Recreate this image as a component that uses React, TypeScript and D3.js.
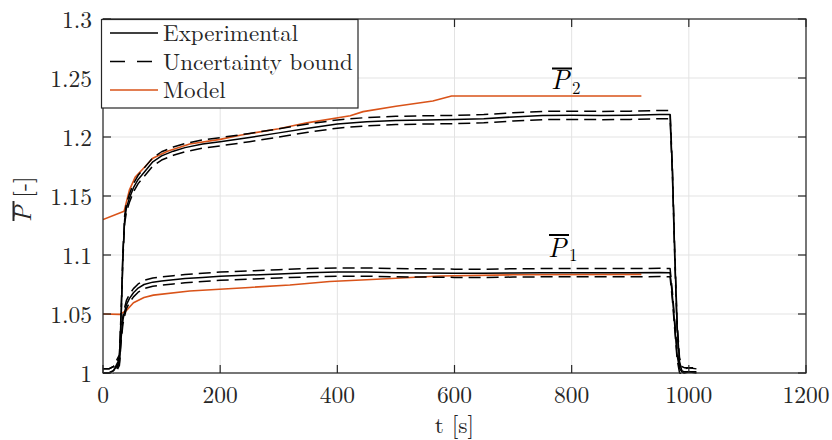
import React from "react";
import * as d3 from "d3";

// ---------- data ----------
const tExp = [0, 10, 18, 24, 28, 31, 34, 37, 40, 45, 52, 60, 70, 85, 100, 120, 140, 170, 200, 250, 300, 350, 400, 450, 500, 550, 600, 650, 700, 750, 800, 850, 900, 950, 968, 972, 976, 980, 984, 988, 992, 1000, 1013];
const p2Exp = [1.0, 1.0, 1.002, 1.008, 1.012, 1.05, 1.1, 1.13, 1.14, 1.148, 1.157, 1.164, 1.17, 1.179, 1.184, 1.188, 1.191, 1.194, 1.196, 1.1995, 1.2035, 1.2075, 1.211, 1.213, 1.214, 1.2145, 1.2148, 1.2155, 1.217, 1.2182, 1.2184, 1.2182, 1.2184, 1.219, 1.219, 1.17, 1.1, 1.04, 1.01, 1.002, 1.001, 1.001, 1.001];
const p1Exp = [1.0, 1.0, 1.002, 1.006, 1.01, 1.03, 1.045, 1.052, 1.058, 1.063, 1.068, 1.072, 1.075, 1.077, 1.078, 1.079, 1.08, 1.081, 1.082, 1.083, 1.084, 1.085, 1.0855, 1.0855, 1.085, 1.0848, 1.0845, 1.0845, 1.0848, 1.085, 1.085, 1.085, 1.085, 1.0852, 1.085, 1.065, 1.04, 1.015, 1.004, 1.001, 1.0, 1.001, 1.0];
const uncertainty = 0.0035;

const tModelP2 = [0, 36, 45, 55, 70, 85, 110, 148, 200, 234, 300, 348, 422, 444, 500, 563, 595, 919];
const p2Model = [1.13, 1.137, 1.155, 1.166, 1.174, 1.182, 1.188, 1.194, 1.198, 1.2015, 1.207, 1.212, 1.218, 1.2215, 1.226, 1.2305, 1.2347, 1.2347];
const tModelP1 = [0, 29, 40, 52, 70, 86, 148, 250, 319, 387, 450, 575, 700, 919];
const p1Model = [1.05, 1.0497, 1.053, 1.0596, 1.064, 1.066, 1.0695, 1.0725, 1.0746, 1.0775, 1.079, 1.0822, 1.0832, 1.0836];

const xTicks = [0, 200, 400, 600, 800, 1000, 1200];
const yTicks = [1, 1.05, 1.1, 1.15, 1.2, 1.25, 1.3];
const legendItems = ["Experimental", "Uncertainty bound", "Model"];

// ---------- layout ----------
const W = 832, H = 440;
const X0 = 103, X1 = 806, Y0 = 373, Y1 = 19;
const FONT = '"Latin Modern Roman"';
const ORANGE = "#D95319";
const AX = "#262626";
const ts = { fontFamily: FONT };

export default function App() {
  const x = d3.scaleLinear().domain([0, 1200]).range([X0, X1]);
  const y = d3.scaleLinear().domain([1, 1.3]).range([Y0, Y1]);
  const line = d3.line<[number, number]>().x(d => x(d[0])).y(d => y(d[1]));
  const mk = (tt: number[], vs: number[], off = 0) => line(tt.map((t, i) => [t, vs[i] + off]) as [number, number][]) || "";

  return (
    <svg width={W} height={H} style={{ position: "fixed", left: 0, top: 0, background: "#fff", fontFamily: FONT }}>
      <rect x={0} y={0} width={W} height={H} fill="#fff" />
      {/* grid */}
      {xTicks.map(t => (
        <line key={"gx" + t} x1={x(t)} x2={x(t)} y1={Y1} y2={Y0} stroke="#e3e3e3" strokeWidth={1} />
      ))}
      {yTicks.map(v => (
        <line key={"gy" + v} x1={X0} x2={X1} y1={y(v)} y2={y(v)} stroke="#e3e3e3" strokeWidth={1} />
      ))}
      <defs>
        <clipPath id="clip"><rect x={X0} y={Y1} width={X1 - X0} height={Y0 - Y1 + 1} /></clipPath>
      </defs>
      <g clipPath="url(#clip)" fill="none" strokeLinejoin="round">
        {/* model */}
        <path d={mk(tModelP2, p2Model)} stroke={ORANGE} strokeWidth={1.6} />
        <path d={mk(tModelP1, p1Model)} stroke={ORANGE} strokeWidth={1.6} />
        {/* uncertainty */}
        {[p2Exp, p1Exp].map((s, i) => (
          <g key={"u" + i}>
            <path d={mk(tExp, s, uncertainty)} stroke="#000" strokeWidth={1.5} strokeDasharray="12,6" />
            <path d={mk(tExp, s, -uncertainty)} stroke="#000" strokeWidth={1.5} strokeDasharray="12,6" />
          </g>
        ))}
        {/* experimental */}
        <path d={mk(tExp, p2Exp)} stroke="#000" strokeWidth={1.5} />
        <path d={mk(tExp, p1Exp)} stroke="#000" strokeWidth={1.5} />
      </g>
      {/* axes box */}
      <rect x={X0} y={Y1} width={X1 - X0} height={Y0 - Y1} fill="none" stroke={AX} strokeWidth={1.2} />
      {xTicks.map(t => (
        <g key={"xt" + t}>
          <line x1={x(t)} x2={x(t)} y1={Y0} y2={Y0 - 8} stroke={AX} strokeWidth={1.2} />
          <line x1={x(t)} x2={x(t)} y1={Y1} y2={Y1 + 8} stroke={AX} strokeWidth={1.2} />
          <text style={ts} x={x(t)} y={Y0 + 30} textAnchor="middle" fontSize={23.5} fill={AX}>{t}</text>
        </g>
      ))}
      {yTicks.map(v => (
        <g key={"yt" + v}>
          <line x1={X0} x2={X0 + 8} y1={y(v)} y2={y(v)} stroke={AX} strokeWidth={1.2} />
          <line x1={X1} x2={X1 - 8} y1={y(v)} y2={y(v)} stroke={AX} strokeWidth={1.2} />
          <text style={ts} x={92} y={y(v) + 9} textAnchor="end" fontSize={23.5} fill={AX}>{String(v)}</text>
        </g>
      ))}
      {/* axis labels */}
      <text style={ts} x={(X0 + X1) / 2} y={433} textAnchor="middle" fontSize={23.5} fill={AX}>t [s]</text>
      <g transform="translate(30.5,197) rotate(-90)">
        <text style={ts} x={-25} y={0} fontSize={24} fill={AX}>
          <tspan fontStyle="italic">P</tspan>
          <tspan> [-]</tspan>
        </text>
        <line x1={-24} x2={-4} y1={-17} y2={-17} stroke={AX} strokeWidth={2} />
      </g>
      {/* curve labels */}
      <g fill="#000">
        <line x1={552} x2={572} y1={68.5} y2={68.5} stroke="#000" strokeWidth={2} />
        <text style={ts} x={551} y={89} fontSize={27} fontStyle="italic">P</text>
        <text style={ts} x={572} y={94} fontSize={17}>2</text>
        <line x1={549} x2={569} y1={235} y2={235} stroke="#000" strokeWidth={2} />
        <text style={ts} x={548} y={256.5} fontSize={27} fontStyle="italic">P</text>
        <text style={ts} x={569} y={261} fontSize={17}>1</text>
      </g>
      {/* legend */}
      <rect x={101.5} y={19.5} width={256.5} height={88.5} fill="#fff" stroke={AX} strokeWidth={1.2} />
      {legendItems.map((name, i) => {
        const ly = 33 + i * 28.5;
        return (
          <g key={name}>
            <line x1={110} x2={158} y1={ly} y2={ly}
              stroke={i === 2 ? ORANGE : "#000"} strokeWidth={1.5}
              strokeDasharray={i === 1 ? "15,12" : undefined} />
            <text style={ts} x={163} y={ly + 8} fontSize={23} fill={AX}>{name}</text>
          </g>
        );
      })}
    </svg>
  );
}
